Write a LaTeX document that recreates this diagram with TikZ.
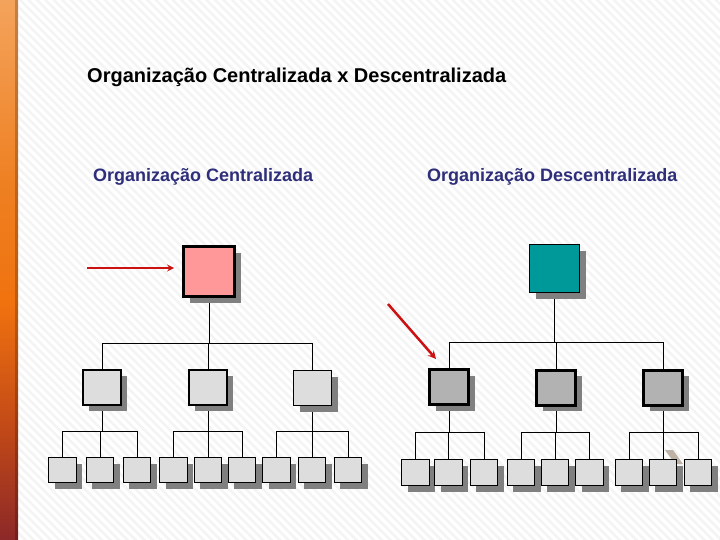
\documentclass[tikz,border=0pt]{standalone}
\usepackage{fontspec}
\setmainfont{Liberation Sans}
\usepackage{tikz}
\usetikzlibrary{positioning,shadows,patterns.meta,calc}
\definecolor{boxpink}{HTML}{FF9999}
\definecolor{boxteal}{HTML}{009999}
\definecolor{boxlight}{HTML}{DDDDDD}
\definecolor{boxmid}{HTML}{B2B2B2}
\definecolor{shadowgray}{HTML}{808080}
\definecolor{subblue}{HTML}{2E2E7A}
\definecolor{arrowred}{HTML}{CC1111}
\definecolor{bandtop}{HTML}{F4A35C}
\definecolor{bandhigh}{HTML}{EE8022}
\definecolor{bandmid}{HTML}{F0720F}
\definecolor{bandlow}{HTML}{C04818}
\definecolor{bandbot}{HTML}{8C2828}
\pgfdeclareverticalshading{band}{100bp}{color(0bp)=(bandbot); color(25bp)=(bandbot); color(35bp)=(bandlow); color(47bp)=(bandmid); color(58bp)=(bandhigh); color(75bp)=(bandtop); color(100bp)=(bandtop)}
\pgfdeclarelayer{bg}
\pgfsetlayers{bg,main}

\begin{document}
\begin{tikzpicture}[x=1pt,y=-1pt,>=stealth,
  hard shadow/.style={general shadow={shadow xshift=6pt,shadow yshift=-6pt,fill=shadowgray}},
  thinbox/.style={draw,line width=1.2pt,inner sep=0pt,hard shadow},
  thickbox/.style={draw,line width=3pt,inner sep=0pt,hard shadow},
  link/.style={line width=0.9pt},
  pointer/.style={->,arrowred,line width=2pt}]
  \useasboundingbox (0,0) rectangle (720,540);
  \begin{pgfonlayer}{bg}
    % page: faint hatching and the orange side band
    \fill[white] (0,0) rectangle (720,540);
    \fill[pattern={Lines[angle=-45,distance=6pt,line width=2.5pt]},pattern color=gray!9] (18,0) rectangle (720,540);
    \shade[shading=band] (0,0) rectangle (18,540);
    \fill[black,opacity=0.2] (15,0) rectangle (18,540);
    % stray grey mark behind the last group
    \fill[gray!70!brown!60] (665,450) -- (673,450) -- (683,464) -- (675,464) -- cycle;
  \end{pgfonlayer}

  % titles
  \node[anchor=west,inner sep=0pt,font=\bfseries\fontsize{20}{24}\selectfont] (title) at (87,77) {Organização Centralizada x Descentralizada};
  \node[anchor=west,inner sep=0pt,subblue,font=\bfseries\fontsize{18}{21}\selectfont] (subL) at (93,177) {Organização Centralizada};
  \node[anchor=west,inner sep=0pt,subblue,font=\bfseries\fontsize{18}{21}\selectfont] (subR) at (427,177) {Organização Descentralizada};

  % centralized tree
  \node[thickbox,fill=boxpink,minimum width=51pt,minimum height=50pt] (pink) at (209,271.5) {};
  \node[thinbox,fill=boxlight,minimum width=38pt,minimum height=35pt] (lm1) at (102,387.5) {};
  \node[thinbox,fill=boxlight,minimum width=38pt,minimum height=35pt] (lm2) at (208,387.5) {};
  \node[thinbox,fill=boxlight,minimum width=38pt,minimum height=35pt] (lm3) at (312.5,388) {};
  \foreach \x [count=\i] in {62.5,100,137,173.5,208,242,276.5,312,348}
    \node[thinbox,fill=boxlight,minimum width=27.5pt,minimum height=25pt] (lk\i) at (\x,470) {};

  % decentralized tree
  \node[thinbox,fill=boxteal,minimum width=50pt,minimum height=48pt] (teal) at (554.5,268.5) {};
  \node[thickbox,fill=boxmid,minimum width=39pt,minimum height=35pt] (rm1) at (449,387) {};
  \node[thickbox,fill=boxmid,minimum width=39pt,minimum height=35pt] (rm2) at (556,387.5) {};
  \node[thickbox,fill=boxmid,minimum width=39pt,minimum height=35pt] (rm3) at (663,387.5) {};
  \foreach \x [count=\i] in {415.5,448.5,484,521,555,589.5,629,663,698}
    \node[thinbox,fill=boxlight,minimum width=27.5pt,minimum height=26pt] (rk\i) at (\x,472.5) {};

  % connectors (kept behind the boxes)
  \begin{pgfonlayer}{bg}
    \coordinate (lbar) at (pink.south |- 0,343);
    \draw[link] (pink.south) -- (lbar);
    \foreach \g in {1,2,3} \draw[link] (lbar) -| (lm\g.north);
    \coordinate (rbar) at (teal.south |- 0,342);
    \draw[link] (teal.south) -- (rbar);
    \foreach \g in {1,2,3} \draw[link] (rbar) -| (rm\g.north);
    \foreach \g/\a/\b/\c in {1/1/2/3,2/4/5/6,3/7/8/9}{
      \coordinate (lb\g) at (lm\g.south |- 0,431);
      \draw[link] (lm\g.south) -- (lb\g);
      \foreach \k in {\a,\b,\c} \draw[link] (lb\g) -| (lk\k.north);
      \coordinate (rb\g) at (rm\g.south |- 0,432.5);
      \draw[link] (rm\g.south) -- (rb\g);
      \foreach \k in {\a,\b,\c} \draw[link] (rb\g) -| (rk\k.north);
    }
  \end{pgfonlayer}

  % red pointers
  \coordinate (ptrL) at (87,268);
  \draw[pointer] (ptrL) -- ([xshift=-8pt]pink.west |- ptrL);
  \coordinate (ptrR) at (388,304);
  \draw[pointer,line width=2.5pt] (ptrR) -- ([xshift=8pt,yshift=9pt]rm1.north west);
\end{tikzpicture}
\end{document}
